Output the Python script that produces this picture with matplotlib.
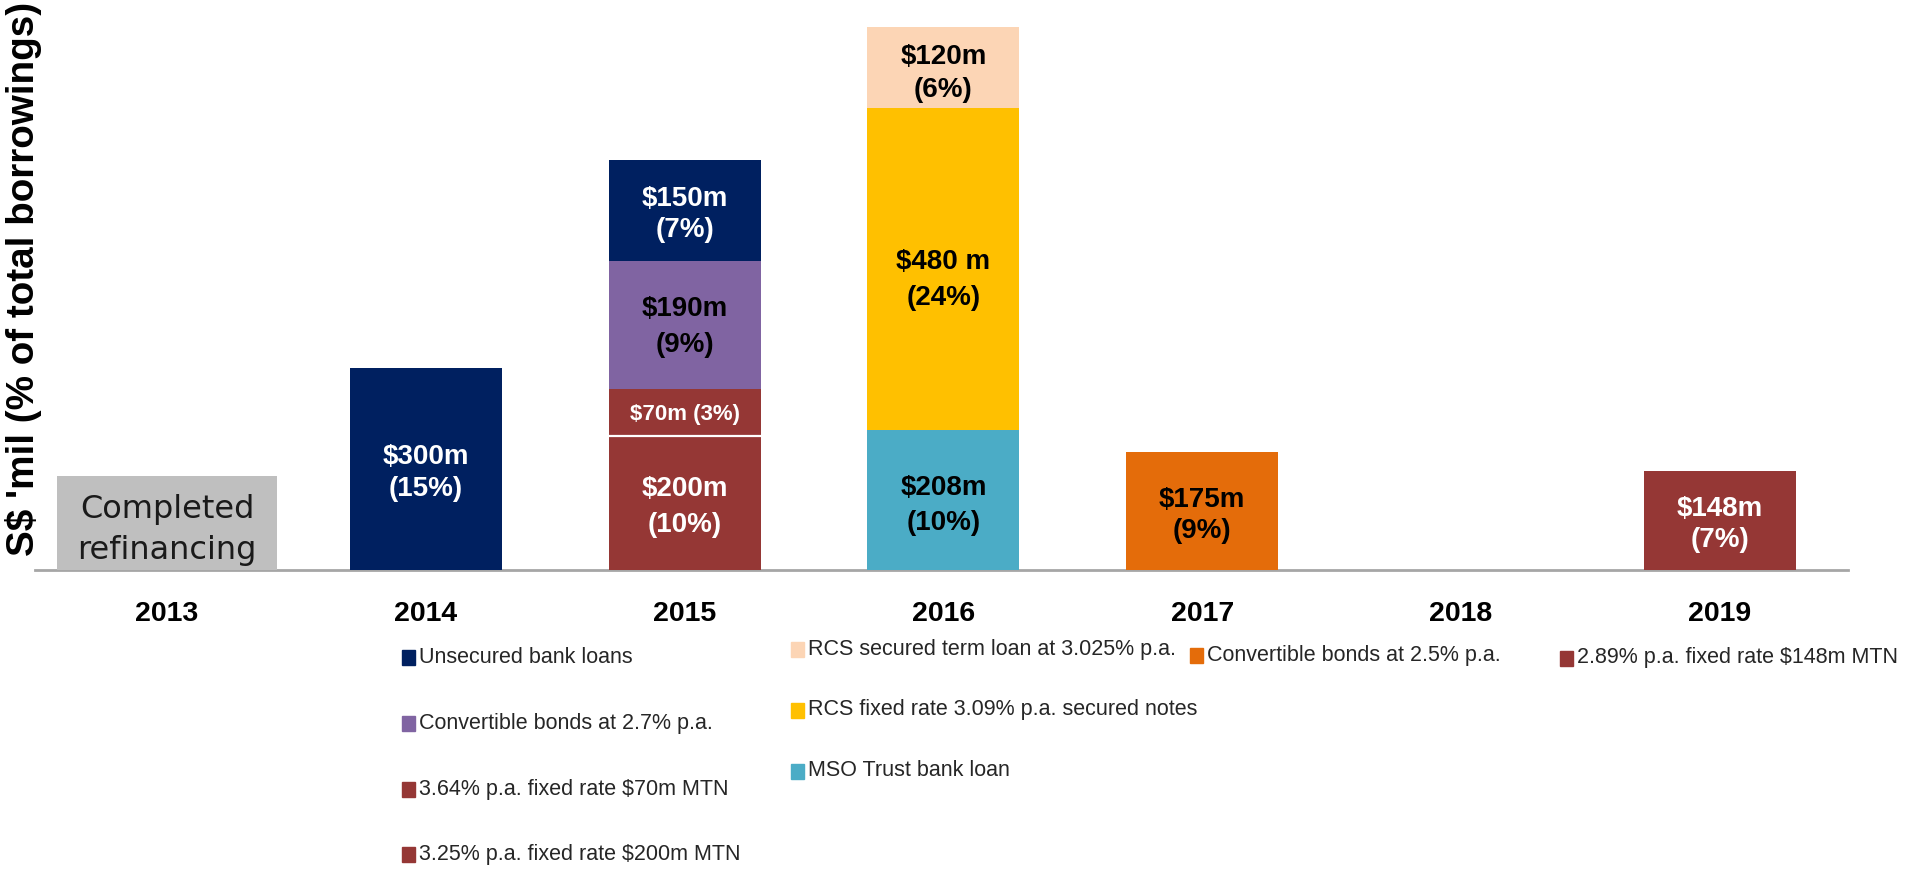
import numpy as np
import matplotlib
matplotlib.use("Agg")
import matplotlib.pyplot as plt
from matplotlib.patches import Rectangle
from matplotlib import transforms

# ---------------- data ----------------
years = ["2013", "2014", "2015", "2016", "2017", "2018", "2019"]

completed_refinancing = [140, 0, 0, 0, 0, 0, 0]   # grey block (no value shown)

mtn_200 = [0, 0, 200, 0, 0, 0, 0]
mtn_70 = [0, 0, 70, 0, 0, 0, 0]
cb_27 = [0, 0, 190, 0, 0, 0, 0]
unsecured = [0, 300, 150, 0, 0, 0, 0]
mso_loan = [0, 0, 0, 208, 0, 0, 0]
rcs_notes = [0, 0, 0, 480, 0, 0, 0]
rcs_term = [0, 0, 0, 120, 0, 0, 0]
cb_25 = [0, 0, 0, 0, 175, 0, 0]
mtn_148 = [0, 0, 0, 0, 0, 0, 148]

lab_mtn_200 = ["", "", "$200m\n(10%)", "", "", "", ""]
lab_mtn_70 = ["", "", "$70m (3%)", "", "", "", ""]
lab_cb_27 = ["", "", "$190m\n(9%)", "", "", "", ""]
lab_unsecured = ["", "$300m\n(15%)", "$150m\n(7%)", "", "", "", ""]
lab_mso = ["", "", "", "$208m\n(10%)", "", "", ""]
lab_rcs_notes = ["", "", "", "$480 m\n(24%)", "", "", ""]
lab_rcs_term = ["", "", "", "$120m\n(6%)", "", "", ""]
lab_cb_25 = ["", "", "", "", "$175m\n(9%)", "", ""]
lab_mtn_148 = ["", "", "", "", "", "", "$148m\n(7%)"]

name_unsecured = "Unsecured bank loans"
name_cb_27 = "Convertible bonds at 2.7% p.a."
name_mtn_70 = "3.64% p.a. fixed rate $70m MTN"
name_mtn_200 = "3.25% p.a. fixed rate $200m MTN"
name_rcs_term = "RCS secured term loan at 3.025% p.a."
name_rcs_notes = "RCS fixed rate 3.09% p.a. secured notes"
name_mso = "MSO Trust bank loan"
name_cb_25 = "Convertible bonds at 2.5% p.a."
name_mtn_148 = "2.89% p.a. fixed rate $148m MTN"

completed_text = "Completed\nrefinancing"
ylabel_text = "S$ 'mil (% of total borrowings)"

# ---------------- styles ----------------
C_NAVY = "#002060"
C_PURPLE = "#8064A2"
C_RED = "#953735"
C_PEACH = "#FCD5B5"
C_YELLOW = "#FFC000"
C_TEAL = "#4BACC6"
C_ORANGE = "#E46C0A"
C_GREY = "#BFBFBF"

BASE = "Liberation Sans"

W, H = 1915, 872
fig = plt.figure(figsize=(W / 100, H / 100), dpi=100)
ax = fig.add_axes([35 / W, 1 - 570 / H, (1848 - 35) / W, 570 / H])

x = np.arange(len(years))
bw = 0.587


def shifted(dy_px):
    return ax.transData + transforms.ScaledTranslation(0, -dy_px / 100, fig.dpi_scale_trans)


# grey completed block
ax.bar(x, completed_refinancing, width=0.85, color=C_GREY, zorder=2)
ax.text(x[0], completed_refinancing[0] / 2, completed_text, ha="center", va="center",
        fontsize=23, family="DejaVu Sans", color="#1a1a1a", linespacing=1.38, zorder=4,
        transform=shifted(7))

# stacked segments (bottom -> top): values, labels, colour, text colour, size, line spacing, shift(px)
stack = [
    (mtn_200, lab_mtn_200, C_RED, "white", 20, 1.5, 4),
    (mtn_70, lab_mtn_70, C_RED, "white", 16, 1.2, 2),
    (cb_27, lab_cb_27, C_PURPLE, "black", 20, 1.5, 2),
    (unsecured, lab_unsecured, C_NAVY, "white", 20, 1.28, 4),
    (mso_loan, lab_mso, C_TEAL, "black", 20, 1.45, 5),
    (rcs_notes, lab_rcs_notes, C_YELLOW, "black", 20, 1.5, 11),
    (rcs_term, lab_rcs_term, C_PEACH, "black", 20, 1.35, 6),
    (cb_25, lab_cb_25, C_ORANGE, "black", 20, 1.25, 4),
    (mtn_148, lab_mtn_148, C_RED, "white", 20, 1.25, 4),
]
bottom = np.zeros(len(years))
for vals, labs, col, tcol, fs, ls, dy in stack:
    v = np.array(vals, dtype=float)
    ax.bar(x, v, width=bw, bottom=bottom, color=col, zorder=2)
    for i in range(len(years)):
        if v[i] > 0 and labs[i]:
            ax.text(x[i], bottom[i] + v[i] / 2, labs[i], ha="center", va="center",
                    color=tcol, fontsize=fs, fontweight="bold", family=BASE,
                    linespacing=ls, zorder=4, transform=shifted(dy))
    bottom = bottom + v

# white separator between the two MTN segments of 2015
i15 = years.index("2015")
ax.plot([x[i15] - bw / 2, x[i15] + bw / 2], [mtn_200[i15], mtn_200[i15]],
        color="white", lw=1.6, zorder=3, solid_capstyle="butt")

ax.set_xlim(-0.51, 6.495)
ax.set_ylim(0, 848)
for s in ["top", "right", "left"]:
    ax.spines[s].set_visible(False)
ax.spines["bottom"].set_color("#A6A6A6")
ax.spines["bottom"].set_linewidth(2)
ax.spines["bottom"].set_zorder(1)
ax.set_yticks([])
ax.set_xticks(x)
ax.set_xticklabels(years, fontsize=20.5, fontweight="bold", family=BASE)
ax.tick_params(axis="x", length=0, pad=22, colors="black")

fig.text(23.5 / W, 1 - 279 / H, ylabel_text, rotation=90, ha="center", va="center",
         fontsize=27.8, fontweight="bold", family=BASE, color="black")

# ---------------- legend (manual layout) ----------------
legend_items = [
    (name_unsecured, C_NAVY, 402, 657),
    (name_cb_27, C_PURPLE, 402, 723),
    (name_mtn_70, C_RED, 402, 789),
    (name_mtn_200, C_RED, 402, 854),
    (name_rcs_term, C_PEACH, 791, 649),
    (name_rcs_notes, C_YELLOW, 791, 710),
    (name_mso, C_TEAL, 791, 771),
    (name_cb_25, C_ORANGE, 1190, 655),
    (name_mtn_148, C_RED, 1560, 658),
]
msz = 13
for text, col, px, py in legend_items:
    fig.patches.append(Rectangle((px / W, 1 - (py + msz / 2 + 1) / H), msz / W, (msz + 2) / H,
                                 transform=fig.transFigure, color=col, figure=fig))
    fig.text((px + msz + 4) / W, 1 - py / H, text, ha="left", va="center",
             fontsize=15.5, family=BASE, color="#262626")

fig.savefig("out.png", dpi=100)
